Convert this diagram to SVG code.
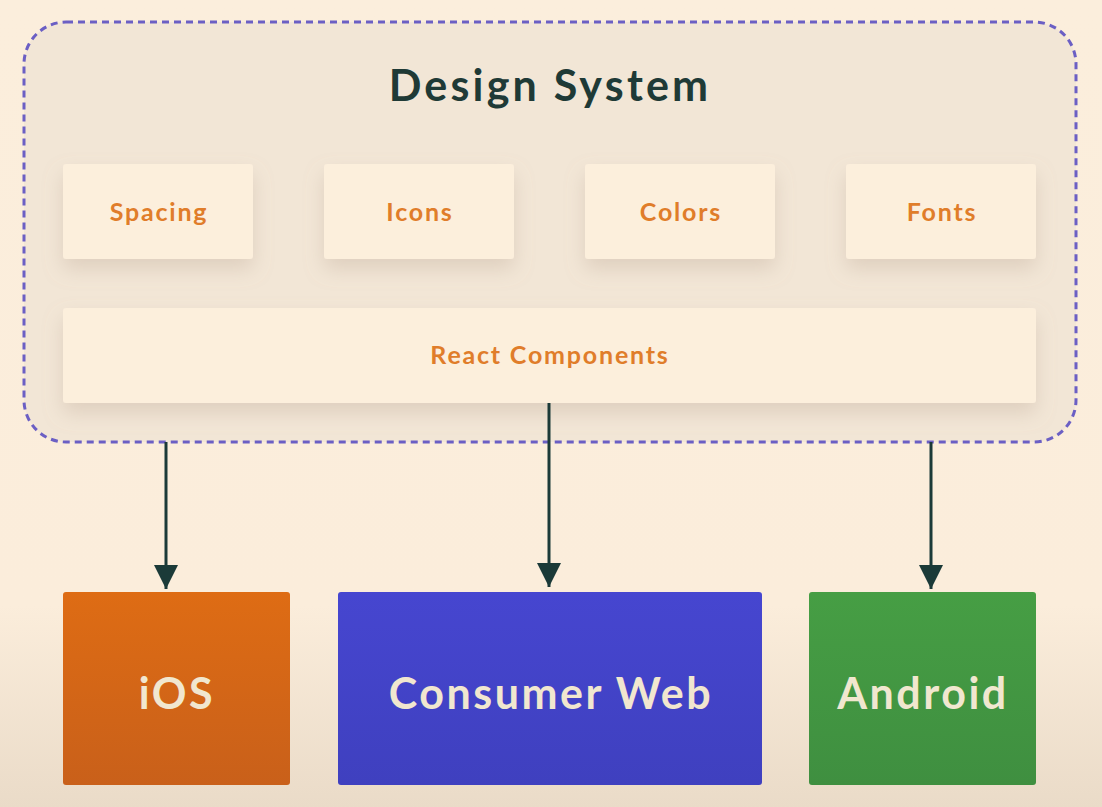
<svg xmlns="http://www.w3.org/2000/svg" width="1102" height="807" viewBox="0 0 1102 807">
<defs>
<linearGradient id="bg" x1="0" y1="0" x2="0" y2="1">
<stop offset="0" stop-color="#fbeedc"/>
<stop offset="0.75" stop-color="#fbeddb"/>
<stop offset="1" stop-color="#eadbc8"/>
</linearGradient>
<linearGradient id="gIos" x1="0" y1="0" x2="0" y2="1"><stop offset="0" stop-color="#de6c14"/><stop offset="1" stop-color="#c9601a"/></linearGradient>
<linearGradient id="gWeb" x1="0" y1="0" x2="0" y2="1"><stop offset="0" stop-color="#4646d0"/><stop offset="1" stop-color="#3f40bf"/></linearGradient>
<linearGradient id="gAnd" x1="0" y1="0" x2="0" y2="1"><stop offset="0" stop-color="#469e44"/><stop offset="1" stop-color="#3f8f40"/></linearGradient>
<filter id="sh" x="-20%" y="-30%" width="140%" height="180%">
<feDropShadow dx="0" dy="10" stdDeviation="10" flood-color="#b09a88" flood-opacity="0.3"/>
</filter>
<marker id="arr" markerWidth="8" markerHeight="8" refX="8" refY="4" orient="auto" markerUnits="strokeWidth">
<path d="M0,0 L8,4 L0,8 Z" fill="#1b3a38"/>
</marker>
<style>
.card{fill:#fcefdc;filter:url(#sh);}
.lbl{font-family:Lato,"Liberation Sans",sans-serif;font-weight:700;font-size:25px;letter-spacing:1.8px;fill:#e07d2a;text-anchor:middle;}
.big{font-family:Lato,"Liberation Sans",sans-serif;font-weight:700;font-size:43px;letter-spacing:2.5px;fill:#f1e7cf;text-anchor:middle;}
.conn{stroke:#1b3a38;stroke-width:3;fill:none;marker-end:url(#arr);}
</style>
</defs>
<rect width="1102" height="807" fill="url(#bg)"/>
<g id="design-system">
<rect x="24" y="22" width="1052" height="420" rx="42" fill="#f2e6d6" stroke="#6b5fc4" stroke-width="3" stroke-dasharray="7 5"/>
<text x="550" y="101" font-family="Lato,'Liberation Sans',sans-serif" font-weight="700" font-size="43" letter-spacing="3.2" fill="#1f3a36" text-anchor="middle">Design System</text>
</g>
<g id="spacing"><rect class="card" x="63" y="164" width="190" height="95" rx="3"/><text class="lbl" x="159" y="221">Spacing</text></g>
<g id="icons"><rect class="card" x="324" y="164" width="190" height="95" rx="3"/><text class="lbl" x="420" y="221">Icons</text></g>
<g id="colors"><rect class="card" x="585" y="164" width="190" height="95" rx="3"/><text class="lbl" x="681" y="221">Colors</text></g>
<g id="fonts"><rect class="card" x="846" y="164" width="190" height="95" rx="3"/><text class="lbl" x="942" y="221">Fonts</text></g>
<g id="react-components"><rect class="card" x="63" y="308" width="973" height="95" rx="3"/><text class="lbl" x="550" y="364">React Components</text></g>
<g id="connectors">
<line class="conn" x1="166" y1="442" x2="166" y2="589"/>
<line class="conn" x1="549" y1="403" x2="549" y2="587"/>
<line class="conn" x1="931" y1="442" x2="931" y2="589"/>
</g>
<g id="ios"><rect x="63" y="592" width="227" height="193" rx="3" fill="url(#gIos)"/><text class="big" x="177" y="709">iOS</text></g>
<g id="consumer-web"><rect x="338" y="592" width="424" height="193" rx="3" fill="url(#gWeb)"/><text class="big" x="551" y="709">Consumer Web</text></g>
<g id="android"><rect x="809" y="592" width="227" height="193" rx="3" fill="url(#gAnd)"/><text class="big" x="923" y="709">Android</text></g>
</svg>
